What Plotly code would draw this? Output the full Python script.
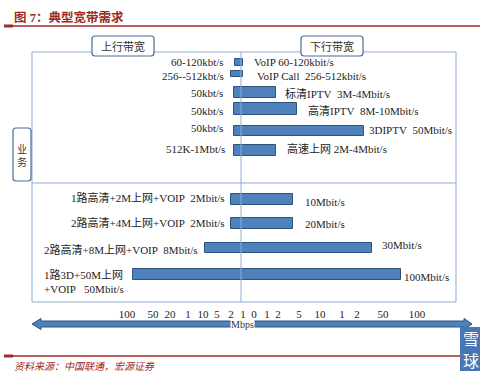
import plotly.graph_objects as go

# ---------------- data ----------------
left_labels = [
    "60-120kbt/s", "256--512kbt/s", "50kbt/s", "50kbt/s", "50kbt/s", "512K-1Mbt/s",
    "1路高清+2M上网+VOIP\u00a0\u00a02Mbit/s", "2路高清+4M上网+VOIP\u00a0\u00a02Mbit/s",
    "2路高清+8M上网+VOIP\u00a0\u00a08Mbit/s", "1路3D+50M上网<br>+VOIP\u00a0\u00a0\u00a050Mbit/s",
]
right_labels = [
    "VoIP 60-120kbit/s", "VoIP Call\u00a0\u00a0256-512kbit/s", "标清IPTV\u00a0\u00a03M-4Mbit/s",
    "高清IPTV\u00a0\u00a08M-10Mbit/s", "3DIPTV\u00a0\u00a050Mbit/s", "高速上网 2M-4Mbit/s",
    "10Mbit/s", "20Mbit/s", "30Mbit/s", "100Mbit/s",
]
# bar extents in diagram units (left = uplink side, right = downlink side)
uplink_extent = [6, 10, 7, 7, 7, 7, 10, 10, 36, 108]
downlink_extent = [2, 2, 35, 56, 123, 35, 52, 52, 131, 160]
tick_labels = ["100", "50", "20", "1", "10", "5", "2", "1", "0", "1", "2", "5", "10", "1", "2", "50", "100"]

# ---------------- layout constants ----------------
CX = 241  # pixel of centre line
def X(px):
    return px - CX

row_y = [62.5, 74, 92.5, 109, 131, 150.5, 199.5, 223.5, 248, 274.5]
bar_h = [7, 6, 11, 12, 10, 11, 11, 11, 10, 11]
tick_px = [127, 153, 170, 188, 203, 217, 231, 243, 254, 267, 278, 299, 320, 342, 357, 383, 417]
right_x = [252, 255, 283, 306, 367, 285, 303, 303, 380, 402]
right_y = [62, 76, 93, 110, 130, 148, 202, 224, 245, 277]
left_x = [226, 226, 225, 225, 225, 227, 227, 227, 42, 42]
left_y = [62, 76, 93, 111, 128, 149, 197, 222, 249, 282]

FONT = "Liberation Serif, Noto Sans CJK SC, serif"
TXT = "#222222"
BAR = "#4F81BD"
BAR_LINE = "#2E527E"
FRAME = "#8EABD3"
RED = "#9C2B23"

fig = go.Figure()
fig.add_trace(go.Bar(
    orientation="h",
    y=row_y,
    x=[u + d for u, d in zip(uplink_extent, downlink_extent)],
    base=[-u for u in uplink_extent],
    width=bar_h,
    marker=dict(color=BAR, line=dict(color=BAR_LINE, width=1)),
    hoverinfo="skip",
))

shapes = []
# outer frame, divider, centre line
shapes.append(dict(type="rect", x0=X(32), x1=X(456), y0=52, y1=302, line=dict(color=FRAME, width=1)))
shapes.append(dict(type="line", x0=X(32), x1=X(456), y0=183, y1=183, line=dict(color=FRAME, width=1)))
shapes.append(dict(type="line", x0=0, x1=0, y0=52, y1=302, line=dict(color=FRAME, width=1)))

def rounded(x0, x1, y0, y1, r=3):
    return (f"M {x0+r},{y0} L {x1-r},{y0} Q {x1},{y0} {x1},{y0+r} L {x1},{y1-r} "
            f"Q {x1},{y1} {x1-r},{y1} L {x0+r},{y1} Q {x0},{y1} {x0},{y1-r} "
            f"L {x0},{y0+r} Q {x0},{y0} {x0+r},{y0} Z")

for (a, b, c, d) in [(92, 154, 36, 56), (301, 363, 36, 56), (13, 31, 128, 181)]:
    shapes.append(dict(type="path", path=rounded(X(a), X(b), c, d),
                       line=dict(color="#4A6C9B", width=1.2), fillcolor="white", layer="above"))

# double arrow
arrow = (f"M {X(32)},324 L {X(41)},318.5 L {X(41)},321 L {X(464)},321 L {X(464)},318.5 "
         f"L {X(472)},324 L {X(464)},329.5 L {X(464)},327 L {X(41)},327 L {X(41)},329.5 Z")
shapes.append(dict(type="path", path=arrow, fillcolor=BAR, line=dict(color=BAR_LINE, width=1)))

# red rules
shapes.append(dict(type="line", x0=X(4), x1=X(480), y0=26, y1=26, line=dict(color=RED, width=1.5)))
shapes.append(dict(type="line", x0=X(4), x1=X(13), y0=26, y1=26, line=dict(color=RED, width=3)))
shapes.append(dict(type="line", x0=X(4), x1=X(462), y0=356, y1=356, line=dict(color=RED, width=1.5)))
shapes.append(dict(type="line", x0=X(4), x1=X(13), y0=356, y1=356, line=dict(color=RED, width=3)))
# logo box
shapes.append(dict(type="rect", x0=X(460), x1=X(481), y0=327, y1=371, fillcolor="#4677B4",
                   line=dict(width=0), layer="above"))

ann = []
for t, x, y in zip(left_labels, left_x, left_y):
    xa = "right" if x > 100 else "left"
    ann.append(dict(x=X(x), y=y, text=t, xanchor=xa, yanchor="middle", showarrow=False,
                    align="left", font=dict(family=FONT, size=11, color=TXT)))
for t, x, y in zip(right_labels, right_x, right_y):
    ann.append(dict(x=X(x), y=y, text=t, xanchor="left", yanchor="middle", showarrow=False,
                    font=dict(family=FONT, size=11, color=TXT)))

ann += [
    dict(x=X(123), y=46, text="上行带宽", showarrow=False, font=dict(family=FONT, size=11, color="#333")),
    dict(x=X(332), y=46, text="下行带宽", showarrow=False, font=dict(family=FONT, size=11, color="#333")),
    dict(x=X(22), y=156, text="业<br>务", showarrow=False, font=dict(family=FONT, size=10, color="#333")),
    dict(x=X(242), y=324, text="Mbps", showarrow=False, bgcolor="white", borderpad=0,
         font=dict(family=FONT, size=10, color="#333")),
    dict(x=X(12), y=17, text="<b>图 7：典型宽带需求</b>", xanchor="left", showarrow=False,
         font=dict(family=FONT, size=12.5, color=RED)),
    dict(x=X(12), y=366, text="<i>资料来源：中国联通，宏源证券</i>", xanchor="left", showarrow=False,
         font=dict(family=FONT, size=10, color=RED)),
    dict(x=X(470.5), y=338, text="雪", showarrow=False, font=dict(family="Noto Sans CJK SC", size=16, color="white")),
    dict(x=X(470.5), y=360, text="球", showarrow=False, font=dict(family="Noto Sans CJK SC", size=16, color="white")),
]

fig.update_layout(
    width=480, height=378, margin=dict(l=0, r=0, t=0, b=0),
    paper_bgcolor="white", plot_bgcolor="white", showlegend=False,
    shapes=shapes, annotations=ann, bargap=0,
    xaxis=dict(range=[X(0), X(480)], showgrid=False, zeroline=False, showline=False,
               tickvals=[X(p) for p in tick_px], ticktext=tick_labels, tickangle=0,
               ticks="", anchor="free", position=1 - 306 / 378,
               tickfont=dict(family=FONT, size=11, color=TXT), fixedrange=True),
    yaxis=dict(range=[378, 0], visible=False, fixedrange=True),
)
fig.write_html("out.html")
